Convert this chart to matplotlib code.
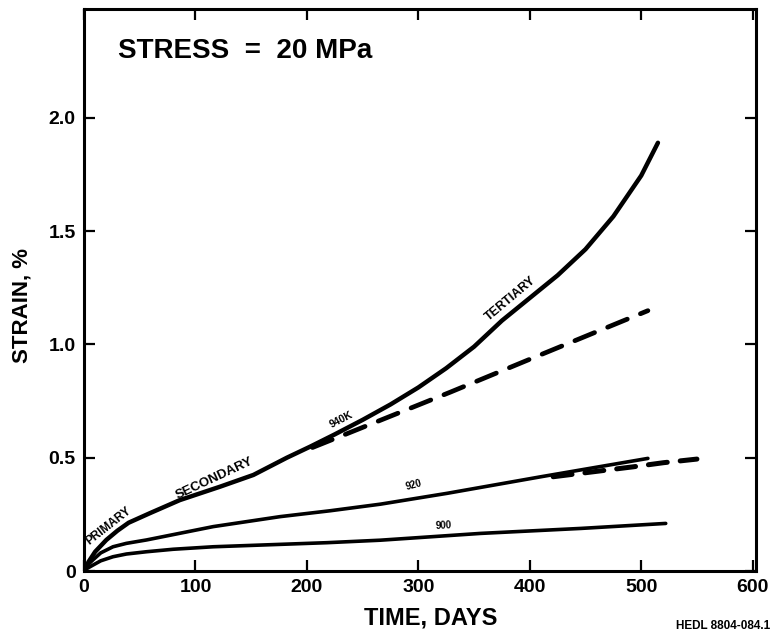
import matplotlib.pyplot as plt

plt.rcParams['font.family'] = ['Liberation Sans', 'DejaVu Sans']
plt.rcParams['font.weight'] = 'bold'

# 940 K creep curve (solid) and its extrapolation (dashed)
days_940 = [0, 4, 10, 20, 30, 40, 59, 86, 122, 152, 182, 203, 225, 250, 275,
            300, 325, 350, 375, 400, 425, 450, 475, 500, 515]
strain_940 = [0, 0.04, 0.085, 0.137, 0.178, 0.213, 0.255, 0.313, 0.372, 0.424,
              0.5, 0.549, 0.603, 0.667, 0.735, 0.81, 0.895, 0.99, 1.105,
              1.205, 1.305, 1.42, 1.565, 1.745, 1.89]
days_940_ext = [205, 239, 329, 413, 506]
strain_940_ext = [0.545, 0.612, 0.79, 0.961, 1.149]

# 920 K
days_920 = [0, 4, 8, 15, 26, 38, 56, 116, 176, 221, 266, 326, 410, 506]
strain_920 = [0, 0.03, 0.049, 0.08, 0.107, 0.122, 0.137, 0.196, 0.24, 0.266,
              0.295, 0.343, 0.416, 0.497]
days_920_ext = [421, 493, 520, 550]
strain_920_ext = [0.416, 0.46, 0.478, 0.494]

# 900 K
days_900 = [0, 3, 8, 15, 26, 38, 56, 80, 116, 218, 266, 356, 446, 522]
strain_900 = [0, 0.012, 0.026, 0.045, 0.063, 0.075, 0.085, 0.096, 0.107,
              0.125, 0.136, 0.166, 0.188, 0.21]

xticks = [0, 100, 200, 300, 400, 500, 600]
yticks = [0, 0.5, 1.0, 1.5, 2.0]
ytick_labels = ['0', '0.5', '1.0', '1.5', '2.0']

fig = plt.figure(figsize=(7.73, 6.4), dpi=100)
ax = fig.add_axes([0.1087, 0.1078, 0.8693, 0.878])

ax.plot(days_940, strain_940, color='black', lw=3.2, solid_capstyle='round',
        solid_joinstyle='round')
ax.plot(days_940_ext, strain_940_ext, color='black', lw=3.4,
        dashes=(4.5, 3), dash_capstyle='round')
ax.plot(days_920, strain_920, color='black', lw=2.6, solid_capstyle='round',
        solid_joinstyle='round')
ax.plot(days_920_ext, strain_920_ext, color='black', lw=3.6,
        dashes=(3.8, 2.6), dash_capstyle='round')
ax.plot(days_900, strain_900, color='black', lw=2.6, solid_capstyle='round',
        solid_joinstyle='round')

ax.set_xlim(0, 603)
ax.set_ylim(0, 2.48)
ax.set_xticks(xticks)
ax.set_yticks(yticks)
ax.set_yticklabels(ytick_labels)
ax.tick_params(direction='in', length=8, width=1.6, labelsize=14, pad=6,
               top=True, right=True)
for lab in ax.get_xticklabels() + ax.get_yticklabels():
    lab.set_fontweight('bold')
for sp in ax.spines.values():
    sp.set_linewidth(2.2)

ax.set_xlabel('TIME, DAYS', fontsize=17, fontweight='bold')
ax.xaxis.set_label_coords(0.516, -0.063)
ax.set_ylabel('STRAIN, %', fontsize=16, fontweight='bold')
ax.yaxis.set_label_coords(-0.076, 0.473)

ax.text(0.05, 0.926, 'STRESS  =  20 MPa', transform=ax.transAxes, fontsize=20,
        fontweight='bold', va='center')

# curve annotations
ax.text(22, 0.2, 'PRIMARY', rotation=38, fontsize=8.5, ha='center', va='center')
ax.text(117, 0.41, 'SECONDARY', rotation=25, fontsize=9.5, ha='center', va='center')
ax.text(231, 0.667, '940K', rotation=27, fontsize=7.5, ha='center', va='center')
ax.text(383, 1.20, 'TERTIARY', rotation=40, fontsize=9, ha='center', va='center')
ax.text(296, 0.38, '920', rotation=15, fontsize=7, ha='center', va='center')
ax.text(323, 0.20, '900', rotation=3, fontsize=7, ha='center', va='center')

fig.text(0.996, 0.012, 'HEDL 8804-084.1', fontsize=8.5, fontweight='bold',
         ha='right', va='bottom')

fig.savefig('out.png', dpi=100)
